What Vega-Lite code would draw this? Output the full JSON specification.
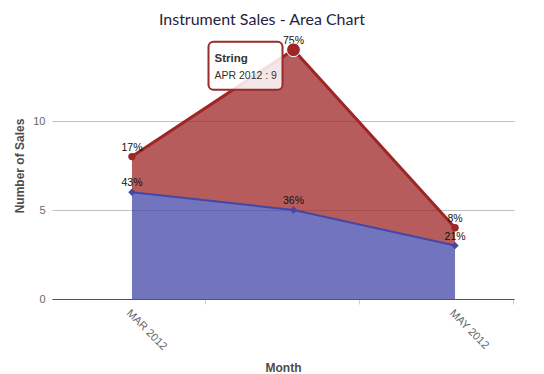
{
  "$schema": "https://vega.github.io/schema/vega-lite/v6.json",
  "width": 462,
  "height": 267,
  "autosize": {"type": "none"},
  "padding": {"left": 52, "top": 32, "right": 30, "bottom": 75},
  "background": "white",
  "title": {
    "text": "Instrument Sales - Area Chart",
    "font": "Lato",
    "fontSize": 16,
    "fontWeight": "normal",
    "color": "#1f2340",
    "anchor": "middle",
    "dx": -21,
    "dy": 18,
    "offset": 9,
    "baseline": "alphabetic"
  },
  "config": {"view": {"stroke": null}},
  "data": {
    "values": [
      {"month": "MAR 2012", "idx": 1, "series": "Brass", "ord": 1, "value": 6, "pct": "43%"},
      {"month": "APR 2012", "idx": 2, "series": "Brass", "ord": 1, "value": 5, "pct": "36%"},
      {"month": "MAY 2012", "idx": 3, "series": "Brass", "ord": 1, "value": 3, "pct": "21%"},
      {"month": "MAR 2012", "idx": 1, "series": "String", "ord": 2, "value": 2, "pct": "17%"},
      {"month": "APR 2012", "idx": 2, "series": "String", "ord": 2, "value": 9, "pct": "75%"},
      {"month": "MAY 2012", "idx": 3, "series": "String", "ord": 2, "value": 1, "pct": "8%"}
    ]
  },
  "transform": [
    {"stack": "value", "groupby": ["idx"], "sort": [{"field": "ord", "order": "ascending"}], "as": ["v0", "v1"]}
  ],
  "encoding": {
    "x": {
      "field": "idx",
      "type": "quantitative",
      "scale": {"domain": [0.505, 3.365], "nice": false, "zero": false},
      "axis": {
        "title": "Month",
        "titleFont": "Liberation Sans",
        "titleFontSize": 12,
        "titleFontWeight": "bold",
        "titleColor": "#4d4d4d",
        "titlePadding": 11,
        "values": [1, 1.452, 2.406, 3, 3.359],
        "labelExpr": "datum.value == 1 ? 'MAR 2012' : (datum.value == 3 ? 'MAY 2012' : '')",
        "labelAngle": 45,
        "labelAlign": "left",
        "labelBaseline": "top",
        "labelFont": "Liberation Sans",
        "labelFontSize": 11,
        "labelColor": "#666666",
        "labelOverlap": false,
        "labelPadding": 3,
        "labelBound": false,
        "labelFlush": false,
        "grid": false,
        "domainColor": "#555555",
        "domainWidth": 1,
        "tickColor": "#c0d0e0",
        "tickSize": 5,
        "tickOpacity": {"condition": {"test": "datum.value == 1 || datum.value == 3", "value": 0}, "value": 1}
      }
    },
    "y": {
      "field": "v1",
      "type": "quantitative",
      "scale": {"domain": [0, 15], "nice": false},
      "axis": {
        "title": "Number of Sales",
        "titleFont": "Liberation Sans",
        "titleFontSize": 12,
        "titleFontWeight": "bold",
        "titleColor": "#4d4d4d",
        "titlePadding": 6,
        "values": [0, 5, 10],
        "labelFont": "Liberation Sans",
        "labelFontSize": 11,
        "labelColor": "#666666",
        "labelPadding": 7,
        "ticks": false,
        "domain": false,
        "grid": true,
        "gridColor": "#c0c0c0",
        "gridWidth": 1
      }
    },
    "color": {
      "field": "series",
      "type": "nominal",
      "scale": {"domain": ["Brass", "String"], "range": ["#4347a8", "#9e2626"]},
      "legend": null
    }
  },
  "layer": [
    {
      "mark": {"type": "area", "opacity": 0.75},
      "encoding": {"y2": {"field": "v0"}}
    },
    {
      "mark": {"type": "line", "strokeWidth": 2},
      "transform": [{"filter": "datum.series == 'Brass'"}]
    },
    {
      "mark": {"type": "line", "strokeWidth": 3},
      "transform": [{"filter": "datum.series == 'String'"}]
    },
    {
      "mark": {"type": "point", "filled": true, "opacity": 1, "size": 55},
      "encoding": {
        "shape": {"field": "series", "type": "nominal", "scale": {"domain": ["Brass", "String"], "range": ["diamond", "circle"]}, "legend": null}
      }
    },
    {
      "mark": {"type": "text", "font": "Liberation Sans", "fontSize": 10.5, "color": "#111111", "baseline": "bottom", "dy": -4},
      "encoding": {"text": {"field": "pct"}, "color": {"value": "#111111"}}
    },
    {
      "transform": [{"filter": "datum.series == 'String' && datum.idx == 2"}],
      "layer": [
        {
          "mark": {"type": "circle", "size": 190, "opacity": 1, "stroke": "white", "strokeWidth": 1}
        },
        {
          "mark": {"type": "rect", "width": 74, "height": 48, "xOffset": -48, "yOffset": 16, "fill": "white", "fillOpacity": 0.85, "stroke": "#9b2a2a", "strokeWidth": 2, "cornerRadius": 5},
          "encoding": {"color": {"value": "white"}}
        },
        {
          "mark": {"type": "text", "align": "left", "baseline": "alphabetic", "dx": -79, "dy": 12, "font": "Liberation Sans", "fontSize": 11.5, "fontWeight": "bold", "color": "#333333"},
          "encoding": {"text": {"field": "series"}, "color": {"value": "#333333"}}
        },
        {
          "transform": [{"calculate": "datum.month + ' : ' + datum.value", "as": "tip"}],
          "mark": {"type": "text", "align": "left", "baseline": "alphabetic", "dx": -79, "dy": 29, "font": "Liberation Sans", "fontSize": 10.5, "color": "#333333"},
          "encoding": {"text": {"field": "tip"}, "color": {"value": "#333333"}}
        }
      ]
    }
  ]
}
